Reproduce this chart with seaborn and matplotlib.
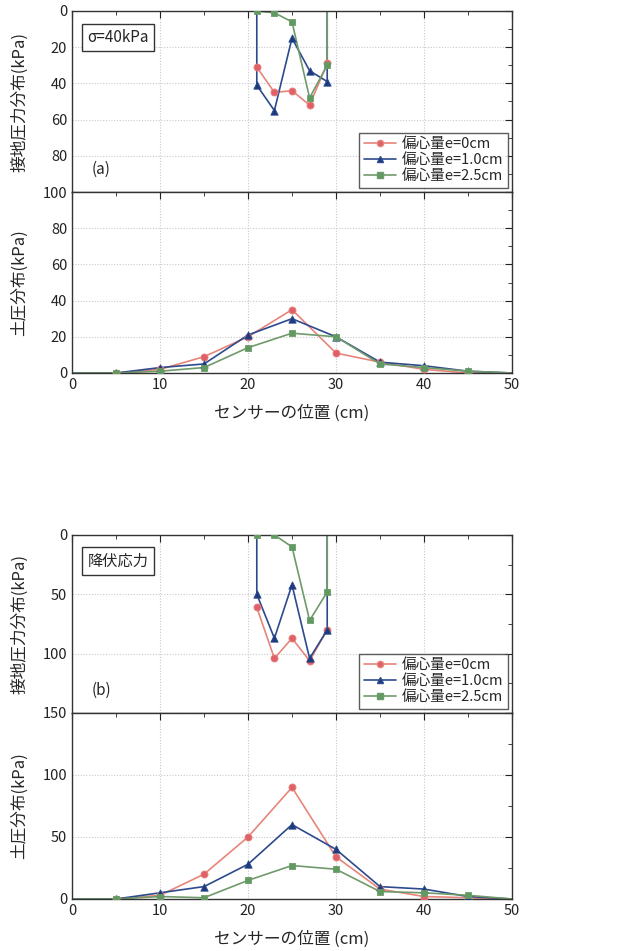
import numpy as np
import pandas as pd
import seaborn as sns
import matplotlib.pyplot as plt
from matplotlib.lines import Line2D
from matplotlib.ticker import MultipleLocator

# 位置 (cm)
pos_soil = [0, 5, 10, 15, 20, 25, 30, 35, 40, 45, 50]
pos_base = [21, 23, 25, 27, 29]
labels = ["偏心量e=0cm", "偏心量e=1.0cm", "偏心量e=2.5cm"]

# (a) σ=40kPa  接地圧力
base_a_e0 = [31, 45, 44, 52, 29]
base_a_e10 = [41, 55, 15, 33, 39]
base_a_e25 = [0, 1, 6, 48, 30]
# (a) 土圧
soil_a_e0 = [0, 0, 2, 9, 20, 35, 11, 6, 2, 0, 0]
soil_a_e10 = [0, 0, 3, 5, 21, 30, 20, 6, 4, 1, 0]
soil_a_e25 = [0, 0, 1, 3, 14, 22, 20, 5, 3, 1, 0]

# (b) 降伏応力  接地圧力
base_b_e0 = [61, 104, 87, 106, 80]
base_b_e10 = [50, 87, 42, 104, 80]
base_b_e25 = [0, 0, 10, 72, 48]
# (b) 土圧
soil_b_e0 = [0, 0, 3, 20, 50, 90, 34, 8, 2, 1, 0]
soil_b_e10 = [0, 0, 5, 10, 28, 60, 40, 10, 8, 2, 0]
soil_b_e25 = [0, 0, 2, 1, 15, 27, 24, 6, 5, 3, 0]

sns.set_style("white")
plt.rcParams['font.family'] = ['Noto Sans CJK JP', 'DejaVu Sans']
plt.rcParams['axes.unicode_minus'] = False

line_cols = ["#e8857a", "#2c4a8c", "#6f9a6a"]
face_cols = ["#e0606a", "#1d3a80", "#5f9a60"]
marks = ["o", "^", "s"]
msizes = [26, 28, 18]

fig = plt.figure(figsize=(6.2, 9.51), dpi=100)
L, W = 72 / 620, 440 / 620


def fy(top_px, bot_px):
    return [L, (951 - bot_px) / 951, W, (bot_px - top_px) / 951]


def style(ax, ymax, major, minor, bottom_ticks=True):
    ax.set_xlim(0, 50)
    ax.xaxis.set_major_locator(MultipleLocator(10))
    ax.xaxis.set_minor_locator(MultipleLocator(5))
    ax.yaxis.set_major_locator(MultipleLocator(major))
    ax.yaxis.set_minor_locator(MultipleLocator(minor))
    ax.tick_params(which="both", direction="in", top=True, right=True,
                   labelsize=10.5, colors="#222222")
    ax.tick_params(which="major", length=5)
    ax.tick_params(which="minor", length=3)
    ax.grid(True, which="major", color="#c8c8d0", linestyle=(0, (1, 1.5)), linewidth=0.8)
    for s in ax.spines.values():
        s.set_color("#333333")
        s.set_linewidth(1.0)
    if not bottom_ticks:
        ax.tick_params(labelbottom=False)


def base_panel(ax, vals, ymax, major, minor, edges):
    for i, v in enumerate(vals):
        xs = list(pos_base)
        ys = list(v)
        lo, hi = edges[i]
        if lo:
            xs = [pos_base[0]] + xs
            ys = [0] + ys
        if hi:
            xs = xs + [pos_base[-1]]
            ys = ys + [0]
        d = pd.DataFrame({"x": xs, "y": ys})
        sns.lineplot(data=d, x="x", y="y", estimator=None, sort=False,
                     color=line_cols[i], linewidth=1.2, ax=ax)
        sns.scatterplot(x=pos_base, y=v, marker=marks[i], color=face_cols[i],
                        edgecolor=line_cols[i], linewidth=0.6, s=msizes[i], ax=ax, zorder=5)
    ax.set_ylim(ymax, 0)
    style(ax, ymax, major, minor, bottom_ticks=False)
    labs = ax.get_yticks()
    ax.set_yticks(labs)
    ax.set_yticklabels([("" if t >= ymax else f"{t:.0f}") for t in labs])
    ax.set_ylim(ymax, 0)
    ax.set_xlabel("")
    ax.set_ylabel("接地圧力分布(kPa)", fontsize=12)


def soil_panel(ax, vals, ymax, major, minor):
    for i, v in enumerate(vals):
        sns.lineplot(x=pos_soil, y=v, estimator=None, color=line_cols[i],
                     linewidth=1.2, ax=ax)
        sns.scatterplot(x=pos_soil[1:-1], y=v[1:-1], marker=marks[i], color=face_cols[i],
                        edgecolor=line_cols[i], linewidth=0.6, s=msizes[i], ax=ax, zorder=5)
    ax.set_ylim(0, ymax)
    style(ax, ymax, major, minor)
    ax.set_ylabel("土圧分布(kPa)", fontsize=12)
    ax.set_xlabel("センサーの位置 (cm)", fontsize=12, labelpad=9)


def legend(ax):
    h = [Line2D([0], [0], color=line_cols[i], marker=marks[i], markerfacecolor=face_cols[i],
                markeredgecolor=line_cols[i], markersize=4.5, linewidth=1.2) for i in range(3)]
    lg = ax.legend(h, labels, loc="lower right", fontsize=10.5, frameon=True, fancybox=False,
                   edgecolor="#333333", handlelength=2.2, handletextpad=0.4,
                   labelspacing=0.15, borderpad=0.3, borderaxespad=0.3)
    lg.get_frame().set_linewidth(1.0)


# (a)
ax1 = fig.add_axes(fy(11, 192))
base_panel(ax1, [base_a_e0, base_a_e10, base_a_e25], 100, 20, 10,
           [(False, False), (True, True), (False, True)])
legend(ax1)
ax1.text(0.035, 0.9, "σ=40kPa", transform=ax1.transAxes, fontsize=11, va="top",
         bbox=dict(boxstyle="square,pad=0.35", fc="white", ec="#333333", lw=1.0))
ax1.text(0.045, 0.1, "(a)", transform=ax1.transAxes, fontsize=11)

ax2 = fig.add_axes(fy(192, 373))
soil_panel(ax2, [soil_a_e0, soil_a_e10, soil_a_e25], 100, 20, 10)

# (b)
ax3 = fig.add_axes(fy(535, 713))
base_panel(ax3, [base_b_e0, base_b_e10, base_b_e25], 150, 50, 25,
           [(False, False), (True, True), (False, True)])
legend(ax3)
ax3.text(0.035, 0.9, "降伏応力", transform=ax3.transAxes, fontsize=11, va="top",
         bbox=dict(boxstyle="square,pad=0.35", fc="white", ec="#333333", lw=1.0))
ax3.text(0.045, 0.1, "(b)", transform=ax3.transAxes, fontsize=11)

ax4 = fig.add_axes(fy(713, 899))
soil_panel(ax4, [soil_b_e0, soil_b_e10, soil_b_e25], 150, 50, 25)

for ax in (ax1, ax2, ax3, ax4):
    ax.yaxis.set_label_coords(-0.1, 0.5)

fig.savefig("out.png", dpi=100)
